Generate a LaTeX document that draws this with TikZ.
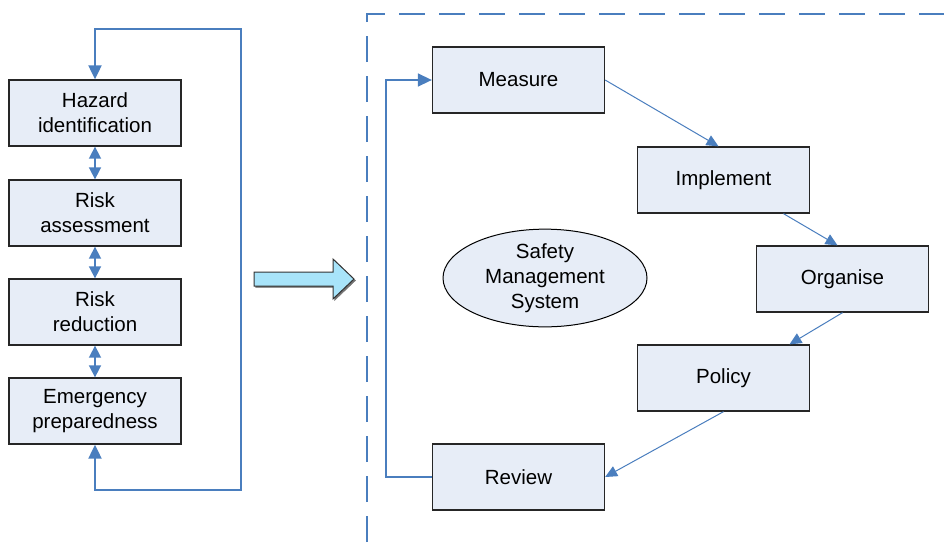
\documentclass[tikz,border=0pt]{standalone}
\usepackage{fontspec}
\setmainfont{Liberation Sans}
\usetikzlibrary{arrows.meta,shapes.geometric,positioning}

\definecolor{boxfill}{RGB}{231,237,247}
\definecolor{linkblue}{RGB}{74,126,190}
\definecolor{arrowcyan}{RGB}{168,228,250}

\begin{document}
\begin{tikzpicture}[x=1pt,y=-1pt,
    stage/.style={draw=black!85, line width=1.3pt, fill=boxfill,
      minimum width=172pt, minimum height=66pt, inner sep=0pt,
      align=center, font=\fontsize{20.5}{25}\selectfont},
    goal/.style={draw=black, line width=1pt, fill=boxfill, ellipse,
      minimum width=204pt, minimum height=93pt, inner sep=0pt,
      align=center, font=\fontsize{20.5}{25}\selectfont},
    feedback/.style={draw=linkblue, line width=2pt},
    pair/.style={draw=linkblue, line width=1.6pt,
      {Triangle[length=12pt,width=12pt]}-{Triangle[length=12pt,width=12pt]}},
    link/.style={draw=linkblue, line width=1pt,
      -{Triangle[length=12pt,width=11pt]}},
    frame/.style={draw=linkblue, line width=1.5pt, dash pattern=on 26pt off 14pt}]

  \useasboundingbox (0,0) rectangle (944,542);

  % left column
  \foreach \name/\y/\txt in {hazard/113/{Hazard\\identification},
      assess/213/{Risk\\assessment}, reduce/312/{Risk\\reduction},
      emergency/411/{Emergency\\preparedness}}{
    \node[stage] (\name) at (95,\y) {\txt};
  }

  \foreach \a/\b in {hazard/assess, assess/reduce, reduce/emergency}{
    \draw[pair] (\a.south) -- (\b.north);
  }

  \coordinate (loopTop) at (241,29);
  \coordinate (loopBot) at (241,490);
  \draw[feedback, {Triangle[length=14pt,width=13pt]}-{Triangle[length=14pt,width=13pt]}]
    (emergency.south) |- (loopBot) -- (loopTop) -| (hazard.north);

  % big arrow
  \filldraw[black!55] (255.5,273.5) -- (334.5,273.5) -- (334.5,260.5) -- (355.5,280.5)
    -- (334.5,300.5) -- (334.5,287.5) -- (255.5,287.5) -- cycle;
  \filldraw[fill=arrowcyan, draw=black!80, line width=1pt]
    (254,272) -- (333,272) -- (333,259) -- (354,279) -- (333,299) -- (333,286)
    -- (254,286) -- cycle;

  % dashed frame
  \draw[frame] (367,542) -- (367,14) -- (944,14);

  % right cycle
  \node[stage] (measure) at (518.5,80) {Measure};
  \node[stage] (implement) at (723.5,180) {Implement};
  \node[stage] (organise) at (842.5,279) {Organise};
  \node[stage] (policy) at (723.5,378) {Policy};
  \node[stage] (review) at (518.5,477) {Review};
  \node[goal] (sms) at (545,278) {Safety\\Management\\System};

  \draw[link] (measure.east) -- ([xshift=-5pt]implement.north);
  \draw[link] ([xshift=60pt]implement.south) -- ([xshift=-5pt]organise.north);
  \draw[link] (organise.south) -- ([xshift=66pt]policy.north);
  \draw[link] (policy.south) -- (review.east);

  \coordinate (backlane) at (386,0);
  \draw[link, line width=1.5pt, -{Triangle[length=14pt,width=13pt]}]
    (review.west) -- (review.west -| backlane) |- (measure.west);

\end{tikzpicture}
\end{document}
